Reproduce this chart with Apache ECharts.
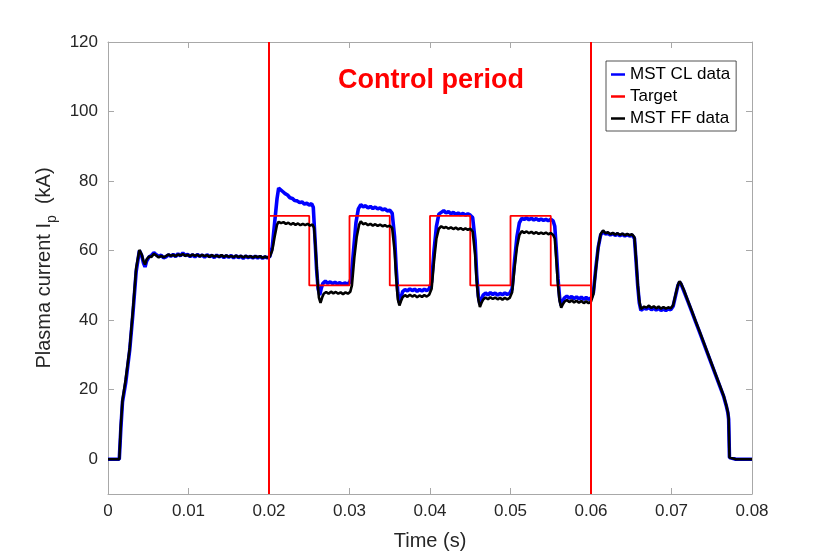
<!DOCTYPE html>
<html>
<head>
<meta charset="utf-8">
<script src="https://cdn.jsdelivr.net/npm/echarts@6/dist/echarts.min.js"></script>
<style>html,body{margin:0;padding:0;background:#fff;}#c{width:830px;height:556px;}</style>
</head>
<body>
<div id="c"></div>
<script>
// Time (s) ticks and current (kA) ticks
const xTicks = [0, 0.01, 0.02, 0.03, 0.04, 0.05, 0.06, 0.07, 0.08];
const xTickLabels = ['0', '0.01', '0.02', '0.03', '0.04', '0.05', '0.06', '0.07', '0.08'];
const yTicks = [0, 20, 40, 60, 80, 100, 120];

// Control period boundaries (s)
const controlBounds = [0.02, 0.06];

// Target waveform [time, kA]
const targetData = [[0.0200,70],[0.0250,70],[0.0250,50],[0.0300,50],[0.0300,70],[0.0350,70],[0.0350,50],[0.0400,50],[0.0400,70],[0.0450,70],[0.0450,50],[0.0500,50],[0.0500,70],[0.0550,70],[0.0550,50],[0.0600,50]];

// MST closed-loop data [time, kA]
const clData = [
[0,0],[0.0010,0],[0.0014,0],[0.0016,9],[0.0018,16.5],[0.0022,22],[0.0027,31.5],[0.0031,42],[0.0035,54],[0.0039,60],[0.0042,58.5],[0.0044,56.5],[0.0046,55.3],[0.0048,57],[0.0051,58.2],[0.0054,58.6],[0.0057,59.4],[0.0060,58.8],[0.0063,58.3],[0.0066,58.7],[0.0069,57.9],[0.0072,58.2],[0.0075,58.8],[0.0078,58.4],[0.0081,58.9],[0.0084,58.3],[0.0087,59.1],[0.0090,58.5],[0.0093,59.3],[0.0096,58.6],[0.0099,58.9],[0.0102,58.3],[0.0105,58.8],[0.0108,58.2],[0.0111,58.9],[0.0114,58.4],[0.0117,58.7],[0.0120,58.1],[0.0123,58.8],[0.0126,58.3],[0.0129,58.6],[0.0132,58.0],[0.0135,58.7],[0.0138,58.2],[0.0141,58.6],[0.0144,58.0],[0.0147,58.5],[0.0150,58.1],[0.0153,58.6],[0.0156,57.9],[0.0159,58.5],[0.0162,58.0],[0.0165,58.4],[0.0168,57.8],[0.0171,58.4],[0.0174,58.0],[0.0177,58.3],[0.0180,57.9],[0.0183,58.4],[0.0186,57.9],[0.0189,58.3],[0.0192,57.8],[0.0195,58.2],[0.0198,57.9],[0.0201,58.3],
[0.0204,61],[0.0207,68],[0.0210,75],[0.0212,78],[0.0214,77.6],[0.0217,77.0],[0.0220,76.4],[0.0223,76.0],[0.0226,75.2],[0.0229,75.0],[0.0232,74.4],[0.0235,74.3],[0.0238,73.8],[0.0241,74.0],[0.0244,73.4],[0.0247,73.6],[0.0250,73.1],[0.0253,73.5],[0.0255,72.5],
[0.0257,64],[0.0259,55],[0.0261,49],[0.0263,47.2],[0.0265,49.2],[0.0267,50.6],[0.0270,51.2],[0.0273,50.6],[0.0276,51.0],[0.0279,50.5],[0.0282,50.9],[0.0285,50.4],[0.0288,50.8],[0.0291,50.3],[0.0294,50.7],[0.0297,50.4],[0.0300,50.8],[0.0302,52],
[0.0305,60],[0.0308,68],[0.0311,72],[0.0314,73.2],[0.0317,72.6],[0.0320,72.9],[0.0323,72.3],[0.0326,72.7],[0.0329,72.1],[0.0332,72.5],[0.0335,72.0],[0.0338,72.3],[0.0341,71.7],[0.0344,72.0],[0.0347,71.4],[0.0350,71.6],[0.0353,70.8],
[0.0356,64],[0.0358,55],[0.0360,48],[0.0362,45],[0.0364,46.5],[0.0366,48.2],[0.0369,48.8],[0.0372,48.4],[0.0375,49.0],[0.0378,48.5],[0.0381,48.9],[0.0384,48.3],[0.0387,48.8],[0.0390,48.4],[0.0393,48.9],[0.0396,48.5],[0.0399,49.0],[0.0402,51],
[0.0405,60],[0.0408,67],[0.0411,70.5],[0.0414,71.0],[0.0417,71.5],[0.0420,70.8],[0.0423,71.2],[0.0426,70.6],[0.0429,71.0],[0.0432,70.4],[0.0435,70.8],[0.0438,70.3],[0.0441,70.7],[0.0444,70.2],[0.0447,70.6],[0.0450,70.2],[0.0453,69.5],
[0.0456,63],[0.0458,53],[0.0460,47],[0.0462,44.5],[0.0464,46],[0.0466,47.2],[0.0469,47.8],[0.0472,47.3],[0.0475,47.9],[0.0478,47.4],[0.0481,47.8],[0.0484,47.2],[0.0487,47.7],[0.0490,47.3],[0.0493,47.8],[0.0496,47.4],[0.0499,47.7],[0.0502,49],
[0.0505,57],[0.0508,64],[0.0511,68],[0.0514,69.3],[0.0517,69.0],[0.0520,69.4],[0.0523,68.9],[0.0526,69.3],[0.0529,68.8],[0.0532,69.2],[0.0535,68.7],[0.0538,69.1],[0.0541,68.7],[0.0544,69.0],[0.0547,68.6],[0.0550,69.0],[0.0553,68.5],[0.0555,67],
[0.0557,60],[0.0559,52],[0.0561,46.5],[0.0563,44.2],[0.0565,45.5],[0.0567,46.4],[0.0570,46.9],[0.0573,46.3],[0.0576,46.8],[0.0579,46.2],[0.0582,46.7],[0.0585,46.1],[0.0588,46.6],[0.0591,46.0],[0.0594,46.5],[0.0597,46.0],[0.0600,46.3],[0.0603,48],
[0.0606,55],[0.0609,61],[0.0612,64.5],[0.0615,65.5],[0.0618,64.8],[0.0621,65.0],[0.0624,64.5],[0.0627,64.9],[0.0630,64.4],[0.0633,64.8],[0.0636,64.3],[0.0639,64.7],[0.0642,64.2],[0.0645,64.6],[0.0648,64.2],[0.0651,64.5],[0.0654,63.5],
[0.0656,57],[0.0658,50],[0.0660,45],[0.0662,42.8],[0.0664,42.5],[0.0666,43.5],[0.0669,43.2],[0.0672,43.7],[0.0675,43.0],[0.0678,43.5],[0.0681,42.9],[0.0684,43.4],[0.0687,42.8],[0.0690,43.3],[0.0693,42.8],[0.0696,43.3],[0.0699,43.0],[0.0702,44],
[0.0705,47],[0.0708,50],[0.0710,51],[0.0712,50.3],[0.0715,48.6],[0.0720,45.6],[0.0725,42.6],[0.0730,39.5],[0.0735,36.5],[0.0740,33.4],[0.0745,30.3],[0.0750,27.2],[0.0755,24.1],[0.0760,21.0],[0.0765,17.9],[0.0768,15.4],[0.0770,13.4],[0.0771,11.5],[0.0772,0.5],[0.0773,0],[0.0780,0],[0.0790,0],[0.0800,0]
];

// MST feed-forward data [time, kA]
const ffData = [
[0,0],[0.0010,0],[0.0014,0],[0.0016,10],[0.0018,17],[0.0022,23],[0.0027,32],[0.0031,43],[0.0035,55],[0.0039,60.2],[0.0042,58.8],[0.0044,57],[0.0046,56],[0.0048,57.5],[0.0051,58.3],[0.0054,58.2],[0.0057,59.1],[0.0060,58.6],[0.0063,58.0],[0.0066,58.5],[0.0069,58.1],[0.0072,58.4],[0.0075,58.9],[0.0078,58.5],[0.0081,58.8],[0.0084,58.4],[0.0087,58.9],[0.0090,58.6],[0.0093,59.0],[0.0096,58.5],[0.0099,58.8],[0.0102,58.4],[0.0105,58.9],[0.0108,58.5],[0.0111,58.8],[0.0114,58.3],[0.0117,58.8],[0.0120,58.4],[0.0123,58.7],[0.0126,58.2],[0.0129,58.7],[0.0132,58.3],[0.0135,58.6],[0.0138,58.2],[0.0141,58.7],[0.0144,58.2],[0.0147,58.6],[0.0150,58.2],[0.0153,58.5],[0.0156,58.1],[0.0159,58.6],[0.0162,58.1],[0.0165,58.5],[0.0168,58.0],[0.0171,58.5],[0.0174,58.1],[0.0177,58.4],[0.0180,58.0],[0.0183,58.4],[0.0186,58.1],[0.0189,58.4],[0.0192,57.9],[0.0195,58.3],[0.0198,58.0],[0.0201,58.3],
[0.0204,60],[0.0207,64],[0.0210,67.5],[0.0212,68.3],[0.0215,67.9],[0.0218,68.2],[0.0221,67.7],[0.0224,68.0],[0.0227,67.5],[0.0230,67.9],[0.0233,67.4],[0.0236,67.8],[0.0239,67.3],[0.0242,67.7],[0.0245,67.3],[0.0248,67.7],[0.0251,67.2],[0.0254,67.5],[0.0256,66.5],
[0.0258,60],[0.0260,52],[0.0262,46.5],[0.0264,45.0],[0.0266,46.5],[0.0268,47.6],[0.0271,48.1],[0.0274,47.6],[0.0277,48.2],[0.0280,47.7],[0.0283,48.1],[0.0286,47.6],[0.0289,48.0],[0.0292,47.5],[0.0295,48.0],[0.0298,47.6],[0.0301,48.2],[0.0303,50],
[0.0306,58],[0.0309,64],[0.0312,67.5],[0.0314,68.4],[0.0317,67.6],[0.0320,67.9],[0.0323,67.3],[0.0326,67.7],[0.0329,67.2],[0.0332,67.6],[0.0335,67.1],[0.0338,67.5],[0.0341,67.0],[0.0344,67.3],[0.0347,66.9],[0.0350,67.2],[0.0353,66.5],
[0.0356,60],[0.0358,52],[0.0360,46],[0.0362,44.2],[0.0364,45.5],[0.0366,46.6],[0.0369,47.2],[0.0372,46.7],[0.0375,47.3],[0.0378,46.8],[0.0381,47.2],[0.0384,46.6],[0.0387,47.1],[0.0390,46.7],[0.0393,47.2],[0.0396,46.8],[0.0399,47.3],[0.0402,49],
[0.0405,57],[0.0408,63.5],[0.0411,66.3],[0.0414,67.0],[0.0417,66.5],[0.0420,66.8],[0.0423,66.3],[0.0426,66.7],[0.0429,66.2],[0.0432,66.6],[0.0435,66.1],[0.0438,66.5],[0.0441,66.0],[0.0444,66.4],[0.0447,66.0],[0.0450,66.3],[0.0453,65.5],
[0.0456,59],[0.0458,51],[0.0460,46],[0.0462,43.8],[0.0464,45],[0.0466,45.9],[0.0469,46.5],[0.0472,46.0],[0.0475,46.6],[0.0478,46.1],[0.0481,46.5],[0.0484,46.0],[0.0487,46.4],[0.0490,45.9],[0.0493,46.4],[0.0496,46.0],[0.0499,46.4],[0.0502,48],
[0.0505,55],[0.0508,61],[0.0511,64.5],[0.0514,65.6],[0.0517,65.1],[0.0520,65.5],[0.0523,65.0],[0.0526,65.4],[0.0529,64.9],[0.0532,65.3],[0.0535,64.8],[0.0538,65.2],[0.0541,64.8],[0.0544,65.2],[0.0547,64.7],[0.0550,65.1],[0.0553,64.5],[0.0555,63.5],
[0.0557,57],[0.0559,50],[0.0561,45.5],[0.0563,43.6],[0.0565,44.6],[0.0567,45.3],[0.0570,45.8],[0.0573,45.2],[0.0576,45.7],[0.0579,45.1],[0.0582,45.6],[0.0585,45.0],[0.0588,45.5],[0.0591,44.9],[0.0594,45.4],[0.0597,44.9],[0.0600,45.3],[0.0603,47.5],
[0.0606,54.5],[0.0609,61],[0.0612,64.8],[0.0615,65.8],[0.0618,65.0],[0.0621,65.3],[0.0624,64.7],[0.0627,65.1],[0.0630,64.6],[0.0633,65.0],[0.0636,64.5],[0.0639,64.9],[0.0642,64.4],[0.0645,64.8],[0.0648,64.4],[0.0651,64.7],[0.0654,63.8],
[0.0656,57.5],[0.0658,50.5],[0.0660,45.5],[0.0662,43.2],[0.0664,42.8],[0.0666,43.9],[0.0669,43.6],[0.0672,44.2],[0.0675,43.5],[0.0678,44.0],[0.0681,43.4],[0.0684,43.9],[0.0687,43.3],[0.0690,43.8],[0.0693,43.3],[0.0696,43.7],[0.0699,43.4],[0.0702,44.3],
[0.0705,47.3],[0.0708,50.2],[0.0710,51.2],[0.0712,50.5],[0.0715,48.9],[0.0720,45.8],[0.0725,42.8],[0.0730,39.7],[0.0735,36.7],[0.0740,33.6],[0.0745,30.5],[0.0750,27.4],[0.0755,24.3],[0.0760,21.2],[0.0765,18.1],[0.0768,15.6],[0.0770,13.6],[0.0771,11.8],[0.0772,0.5],[0.0773,0],[0.0780,0],[0.0790,0],[0.0800,0]
];

const FONT = '"Liberation Sans", Arial, Helvetica, sans-serif';
const AXIS_GRAY = '#a8a8a8';
const TEXT_COLOR = '#262626';

const chart = echarts.init(document.getElementById('c'), null, {renderer: 'canvas'});

function tickStyle(custom) {
  const t = {show: true, inside: true, length: 6, lineStyle: {color: AXIS_GRAY}};
  if (custom) t.customValues = custom;
  return t;
}

chart.setOption({
  animation: false,
  backgroundColor: '#fff',
  title: {
    text: 'Control period',
    left: 333, top: 62,
    textStyle: {color: '#ff0000', fontSize: 27, fontWeight: 'bold', fontFamily: FONT}
  },
  legend: {
    orient: 'vertical',
    left: 606, top: 61,
    padding: [5, 6, 4, 5],
    itemGap: 5,
    itemWidth: 14,
    itemHeight: 2.5,
    icon: 'rect',
    borderColor: '#262626',
    borderWidth: 0.8,
    backgroundColor: '#fff',
    textStyle: {fontSize: 17, fontFamily: FONT, color: '#000'},
    data: ['MST CL data', 'Target', 'MST FF data']
  },
  grid: {left: 108, right: 78, top: 42, bottom: 60, containLabel: false},
  xAxis: [{
    type: 'value', min: 0, max: 0.08, interval: 0.01,
    name: 'Time (s)', nameLocation: 'middle', nameGap: 37,
    nameTextStyle: {fontSize: 20, fontFamily: FONT, color: TEXT_COLOR},
    axisLine: {show: true, onZero: false, lineStyle: {color: AXIS_GRAY}},
    axisTick: tickStyle(),
    axisLabel: {fontSize: 17, fontFamily: FONT, color: TEXT_COLOR, margin: 9,
      formatter: function (v) { const i = xTicks.findIndex(t => Math.abs(t - v) < 1e-9); return i >= 0 ? xTickLabels[i] : ''; }},
    splitLine: {show: false}
  }, {
    type: 'value', min: 0, max: 0.08, interval: 0.01, position: 'top', show: true,
    axisLine: {show: true, onZero: false, lineStyle: {color: AXIS_GRAY}},
    axisTick: tickStyle(), axisLabel: {show: false}, splitLine: {show: false}
  }],
  yAxis: [{
    type: 'value', min: -10, max: 120,
    name: 'Plasma current I{sub|p}  (kA)', nameLocation: 'middle', nameGap: 47,
    nameTextStyle: {fontSize: 20, fontFamily: FONT, color: TEXT_COLOR,
      rich: {sub: {fontSize: 14, fontFamily: FONT, color: TEXT_COLOR, padding: [14, 0, 0, 0]}}},
    axisLine: {show: true, onZero: false, lineStyle: {color: AXIS_GRAY}},
    axisTick: tickStyle(yTicks),
    axisLabel: {fontSize: 17, fontFamily: FONT, color: TEXT_COLOR, margin: 10, customValues: yTicks},
    splitLine: {show: false}
  }, {
    type: 'value', min: -10, max: 120, position: 'right', show: true,
    axisLine: {show: true, onZero: false, lineStyle: {color: AXIS_GRAY}},
    axisTick: tickStyle(yTicks), axisLabel: {show: false, customValues: yTicks}, splitLine: {show: false}
  }],
  series: [
    {name: 'MST CL data', type: 'line', data: clData, showSymbol: false, color: '#0000ff',
     lineStyle: {color: '#0000ff', width: 3.6}, z: 2},
    {name: 'Target', type: 'line', data: targetData, showSymbol: false, color: '#ff0000',
     lineStyle: {color: '#ff0000', width: 1.8}, z: 3},
    {name: 'MST FF data', type: 'line', data: ffData, showSymbol: false, color: '#000000',
     lineStyle: {color: '#000000', width: 2.6}, z: 4},
    {name: 'bounds', type: 'line', data: [], xAxisIndex: 1, yAxisIndex: 1, z: 5,
     markLine: {silent: true, symbol: 'none', label: {show: false},
       lineStyle: {color: '#ff0000', width: 2, type: 'solid'},
       data: controlBounds.map(b => ({xAxis: b}))}}
  ]
});
</script>
</body>
</html>
